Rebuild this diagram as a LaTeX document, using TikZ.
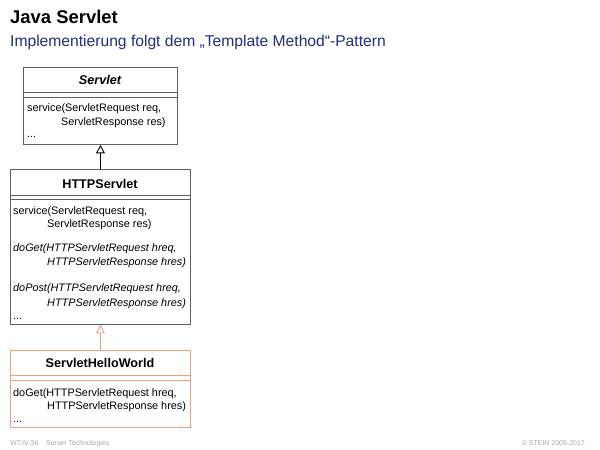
\documentclass[tikz,border=0pt]{standalone}
\usepackage{fontspec}
\setmainfont{Liberation Sans}
\usetikzlibrary{arrows.meta}
\definecolor{navy}{RGB}{35,45,125}
\definecolor{boxgray}{RGB}{95,95,95}
\definecolor{salmon}{RGB}{244,158,130}
\definecolor{footgray}{RGB}{165,165,165}
\begin{document}
\begin{tikzpicture}[x=1bp,y=-1bp,
  umlbox/.style={draw=#1, line width=0.9bp, inner sep=0pt, anchor=north west, fill=white},
  divider/.style={draw=#1, line width=0.9bp},
  mtext/.style={anchor=base west, inner sep=0pt, font=\fontsize{10.9}{12}\selectfont},
  itext/.style={anchor=base west, inner sep=0pt, font=\fontsize{10.9}{12}\selectfont\itshape},
  ttext/.style={anchor=base, inner sep=0pt, font=\fontsize{12.7}{14}\selectfont\bfseries},
  inherit/.style={draw=#1, line width=0.9bp, -{Triangle[open, length=8.5bp, width=9bp]}},
  foot/.style={anchor=base west, inner sep=0pt, text=footgray, font=\fontsize{7}{8}\selectfont}]
\useasboundingbox (0,0) rectangle (600,450);

% headings
\node[anchor=base west, inner sep=0pt, font=\fontsize{18.5}{22}\selectfont\bfseries] (title) at (10,24) {Java Servlet};
\node[anchor=base west, inner sep=0pt, text=navy, font=\fontsize{15.7}{18}\selectfont] (subtitle) at (10,47) {Implementierung folgt dem „Template Method“-Pattern};

% Servlet
\node[umlbox=boxgray, minimum width=154bp, minimum height=77bp] (servlet) at (23,67) {};
\draw[divider=boxgray] (23,92) -- (177,92);
\draw[divider=boxgray] (23,97) -- (177,97);
\node[ttext, font=\fontsize{12.7}{14}\selectfont\bfseries\itshape] (servletT) at (100,84.5) {Servlet};
\node[mtext] (s1) at (27,112) {service(ServletRequest req,};
\node[mtext] (s2) at (61,125.5) {ServletResponse res)};
\node[mtext] (s3) at (27,138) {...};

% HTTPServlet
\node[umlbox=boxgray, minimum width=180bp, minimum height=155bp] (http) at (10,169) {};
\draw[divider=boxgray] (10,195) -- (190,195);
\draw[divider=boxgray] (10,199.5) -- (190,199.5);
\node[ttext] (httpT) at (100,189) {HTTPServlet};
\node[mtext] (h1) at (13,214.5) {service(ServletRequest req,};
\node[mtext] (h2) at (47,228) {ServletResponse res)};
\node[itext] (h3) at (13,251.5) {doGet(HTTPServletRequest hreq,};
\node[itext] (h4) at (47,266) {HTTPServletResponse hres)};
\node[itext] (h5) at (13,292) {doPost(HTTPServletRequest hreq,};
\node[itext] (h6) at (47,306) {HTTPServletResponse hres)};
\node[mtext] (h7) at (13,319.5) {...};

% ServletHelloWorld
\node[umlbox=salmon, minimum width=180bp, minimum height=77bp] (hello) at (10,350) {};
\draw[divider=salmon] (10,375) -- (190,375);
\draw[divider=salmon] (10,380) -- (190,380);
\node[ttext] (helloT) at (100,367) {ServletHelloWorld};
\node[mtext] (w1) at (13,396) {doGet(HTTPServletRequest hreq,};
\node[mtext] (w2) at (47,409.5) {HTTPServletResponse hres)};
\node[mtext] (w3) at (13,422.5) {...};

% inheritance
\draw[inherit=black] (http.north) -- (servlet.south);
\draw[inherit=salmon] (hello.north) -- (http.south);

% footer
\node[foot] (f1) at (10,445) {WT:IV-36\hspace{1.1em}Server Technologies};
\node[foot, anchor=base east] (f2) at (585,445) {© STEIN 2005-2017};
\end{tikzpicture}
\end{document}
